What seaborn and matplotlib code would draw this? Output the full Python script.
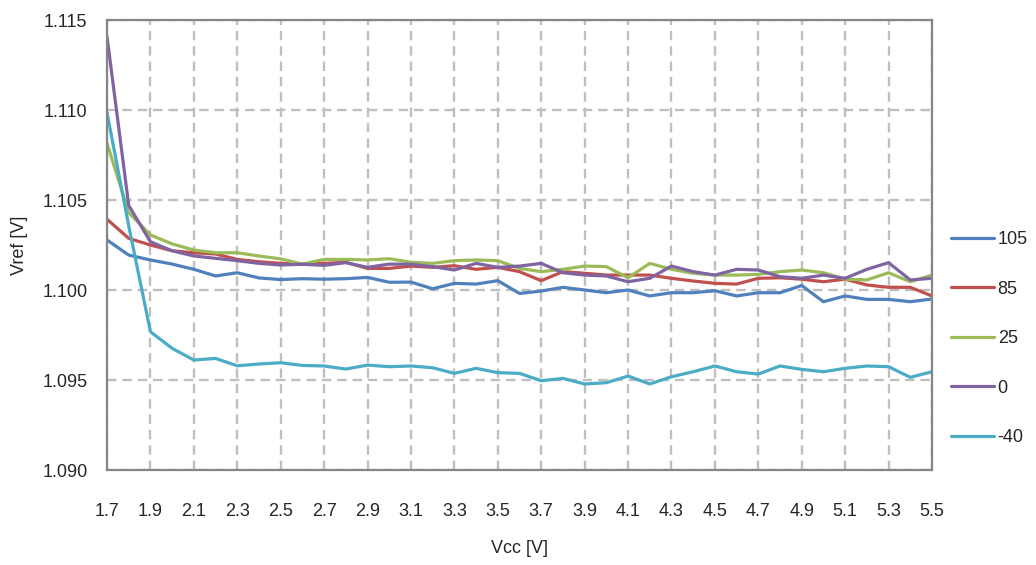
import numpy as np
import pandas as pd
import seaborn as sns
import matplotlib.pyplot as plt

# Vcc points, 0.1 V step
vcc = [1.7, 1.8, 1.9, 2.0, 2.1, 2.2, 2.3, 2.4, 2.5, 2.6, 2.7, 2.8, 2.9,
       3.0, 3.1, 3.2, 3.3, 3.4, 3.5, 3.6, 3.7, 3.8, 3.9, 4.0, 4.1, 4.2,
       4.3, 4.4, 4.5, 4.6, 4.7, 4.8, 4.9, 5.0, 5.1, 5.2, 5.3, 5.4, 5.5]

v_105 = [1.10278, 1.10194, 1.10167, 1.10144, 1.10115, 1.10078, 1.10096, 1.10067,
         1.10058, 1.10063, 1.10060, 1.10063, 1.10070, 1.10043, 1.10044, 1.10007,
         1.10037, 1.10033, 1.10052, 1.09981, 1.09994, 1.10015, 1.10000, 1.09985,
         1.10000, 1.09967, 1.09985, 1.09985, 1.09996, 1.09967, 1.09985, 1.09985,
         1.10025, 1.09935, 1.09967, 1.09948, 1.09948, 1.09935, 1.09950]
v_85 = [1.10393, 1.10287, 1.10250, 1.10218, 1.10207, 1.10200, 1.10170, 1.10157,
        1.10148, 1.10143, 1.10148, 1.10154, 1.10120, 1.10120, 1.10133, 1.10126,
        1.10135, 1.10115, 1.10126, 1.10102, 1.10052, 1.10102, 1.10093, 1.10083,
        1.10083, 1.10083, 1.10065, 1.10050, 1.10037, 1.10033, 1.10065, 1.10068,
        1.10060, 1.10046, 1.10060, 1.10028, 1.10015, 1.10015, 1.09967]
v_25 = [1.10815, 1.10430, 1.10306, 1.10256, 1.10222, 1.10207, 1.10207, 1.10189,
        1.10173, 1.10144, 1.10170, 1.10170, 1.10167, 1.10174, 1.10154, 1.10148,
        1.10163, 1.10167, 1.10163, 1.10120, 1.10102, 1.10115, 1.10133, 1.10130,
        1.10068, 1.10148, 1.10115, 1.10093, 1.10083, 1.10083, 1.10087, 1.10102,
        1.10111, 1.10096, 1.10060, 1.10056, 1.10096, 1.10046, 1.10083]
v_0 = [1.11407, 1.10470, 1.10268, 1.10218, 1.10189, 1.10176, 1.10163, 1.10148,
       1.10139, 1.10143, 1.10137, 1.10152, 1.10126, 1.10144, 1.10143, 1.10130,
       1.10111, 1.10148, 1.10126, 1.10133, 1.10148, 1.10096, 1.10083, 1.10078,
       1.10046, 1.10065, 1.10133, 1.10102, 1.10083, 1.10115, 1.10111, 1.10074,
       1.10065, 1.10083, 1.10065, 1.10115, 1.10152, 1.10056, 1.10065]
v_m40 = [1.10985, 1.10356, 1.09768, 1.09676, 1.09611, 1.09620, 1.09579, 1.09589,
         1.09596, 1.09581, 1.09578, 1.09561, 1.09583, 1.09574, 1.09578, 1.09568,
         1.09537, 1.09565, 1.09541, 1.09537, 1.09496, 1.09509, 1.09478, 1.09485,
         1.09522, 1.09478, 1.09518, 1.09546, 1.09578, 1.09546, 1.09533, 1.09578,
         1.09559, 1.09546, 1.09565, 1.09578, 1.09574, 1.09515, 1.09546]

series = {'105': v_105, '85': v_85, '25': v_25, '0': v_0, '-40': v_m40}
colors = {'105': '#4F81BD', '85': '#C0504D', '25': '#9BBB59',
          '0': '#8064A2', '-40': '#4BACC6'}

x_ticks = [1.7, 1.9, 2.1, 2.3, 2.5, 2.7, 2.9, 3.1, 3.3, 3.5, 3.7, 3.9,
           4.1, 4.3, 4.5, 4.7, 4.9, 5.1, 5.3, 5.5]
y_ticks = [1.090, 1.095, 1.100, 1.105, 1.110, 1.115]

df = pd.concat([pd.DataFrame({'Vcc': vcc, 'Vref': v, 'T': k}) for k, v in series.items()])

sns.set_style('white')
plt.rcParams['font.family'] = ['Liberation Sans Narrow', 'Liberation Sans', 'DejaVu Sans']

fig = plt.figure(figsize=(10.36, 5.65), dpi=100)
ax = fig.add_axes([0.1033, 0.1681, 0.7963, 0.7965])

sns.lineplot(data=df, x='Vcc', y='Vref', hue='T', palette=colors,
             hue_order=list(series.keys()), linewidth=2.3, ax=ax, sort=False)

ax.set_xlim(1.7, 5.5)
ax.set_ylim(1.090, 1.115)
ax.set_xticks(x_ticks)
ax.set_xticklabels([f'{t:.1f}' for t in x_ticks])
ax.set_yticks(y_ticks)
ax.set_yticklabels([f'{t:.3f}' for t in y_ticks])
ax.tick_params(axis='x', length=0, pad=24, labelsize=13)
ax.tick_params(axis='y', length=0, pad=14, labelsize=13)

ax.grid(True, color='#BFBFBF', linestyle=(0, (4, 2.5)), linewidth=1.7)
for s in ax.spines.values():
    s.set_color('#868686')
    s.set_linewidth(1.6)

ax.set_xlabel('Vcc [V]', fontsize=13, labelpad=14)
ax.set_ylabel('Vref [V]', fontsize=13, labelpad=10)

handles, labels = ax.get_legend_handles_labels()
ax.legend(handles, labels, loc='center left', bbox_to_anchor=(1.003, 0.292),
          frameon=False, fontsize=13, labelspacing=1.8, handlelength=2.4,
          handletextpad=0.2)

fig.savefig('out.png', dpi=100)
